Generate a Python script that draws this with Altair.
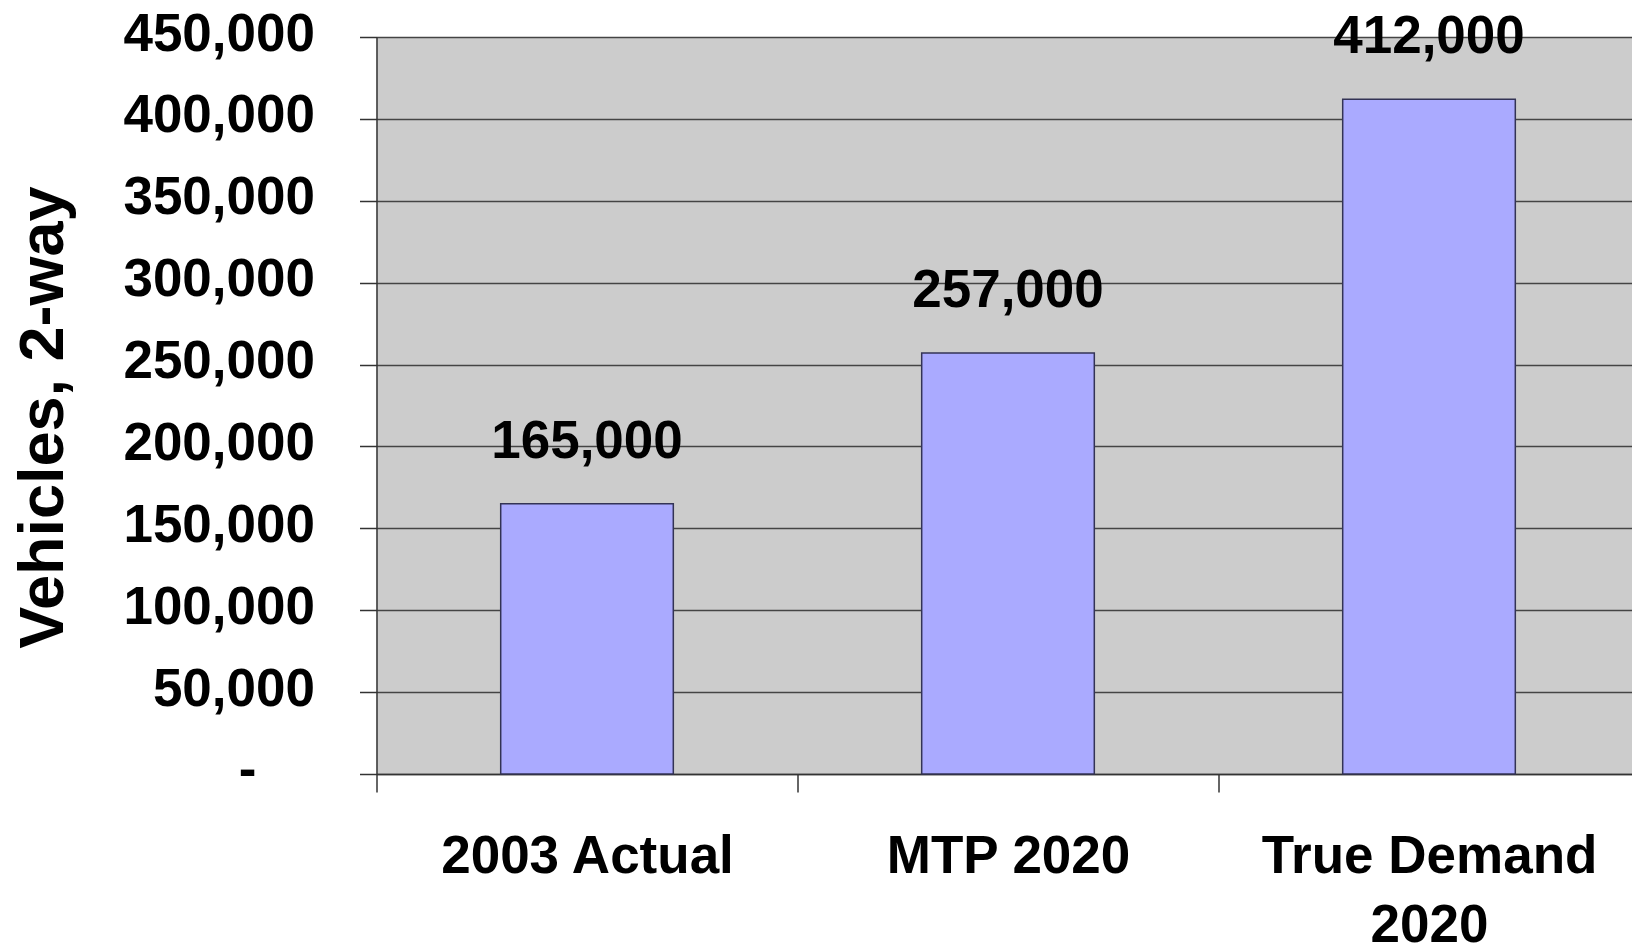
import altair as alt
import pandas as pd

categories = ["2003 Actual", "MTP 2020", "True Demand 2020"]
values = [165000, 257000, 412000]
value_labels = ["165,000", "257,000", "412,000"]
y_ticks = [0, 50000, 100000, 150000, 200000, 250000, 300000, 350000, 400000, 450000]

df = pd.DataFrame({"cat": categories, "val": values, "lab": value_labels})
zero_df = pd.DataFrame({"val": [0], "lab": ["-"]})

FONT = "Liberation Sans"
FS = 53

x = alt.X(
    "cat:N",
    sort=categories,
    scale=alt.Scale(paddingInner=0, paddingOuter=0),
    axis=alt.Axis(
        title=None,
        labelAngle=0,
        labelFont=FONT,
        labelFontSize=FS,
        labelFontWeight="bold",
        labelColor="#000000",
        labelPadding=38,
        labelLimit=0,
        labelLineHeight=69,
        labelExpr="datum.label == 'True Demand 2020' ? ['True Demand', '2020'] : datum.label",
        tickBand="extent",
        tickSize=18,
        tickColor="#333333",
        tickWidth=1.5,
        domainColor="#333333",
        domainWidth=1.5,
        grid=False,
    ),
)

y = alt.Y(
    "val:Q",
    scale=alt.Scale(domain=[0, 450000], nice=False),
    axis=alt.Axis(
        title="Vehicles, 2-way",
        titleFont=FONT,
        titleFontSize=63,
        titleFontWeight="bold",
        titleColor="#000000",
        titleAngle=-90,
        titleBaseline="middle",
        titleAlign="center",
        titleX=-333,
        titleY=380,
        values=y_ticks,
        labelExpr="datum.value == 0 ? '' : format(datum.value, ',')",
        labelFont=FONT,
        labelFontSize=FS,
        labelFontWeight="bold",
        labelColor="#000000",
        labelPadding=45,
        labelOffset=-3,
        labelLimit=0,
        tickSize=17,
        tickColor="#333333",
        tickWidth=1.5,
        domainColor="#333333",
        domainWidth=1.5,
        grid=True,
        gridColor="#444444",
        gridWidth=1.5,
    ),
)

bars = alt.Chart(df).mark_bar(
    color="#AAAAFF", stroke="#333355", strokeWidth=1.5,
    width=alt.RelativeBandSize(0.41),
).encode(x=x, y=y)

labels = alt.Chart(df).mark_text(
    font=FONT, fontSize=FS, fontWeight="bold", color="#000000",
    baseline="middle", dy=-62
).encode(x=alt.X("cat:N", sort=categories), y="val:Q", text="lab:N")

zero_label = alt.Chart(zero_df).mark_text(
    font=FONT, fontSize=FS, fontWeight="bold", color="#000000",
    baseline="middle", align="right", dy=-3
).encode(x=alt.value(-120), y="val:Q", text="lab:N")

chart = alt.layer(bars, labels, zero_label).properties(
    width=1263,
    height=737,
    padding={"left": 368.5, "top": 29, "right": -7.5, "bottom": 172},
    autosize=alt.AutoSizeParams(type="none"),
    background="#FFFFFF",
).configure_view(fill="#CCCCCC", stroke=None)

chart.save("out.html", embed_options={"renderer": "svg", "actions": False})
